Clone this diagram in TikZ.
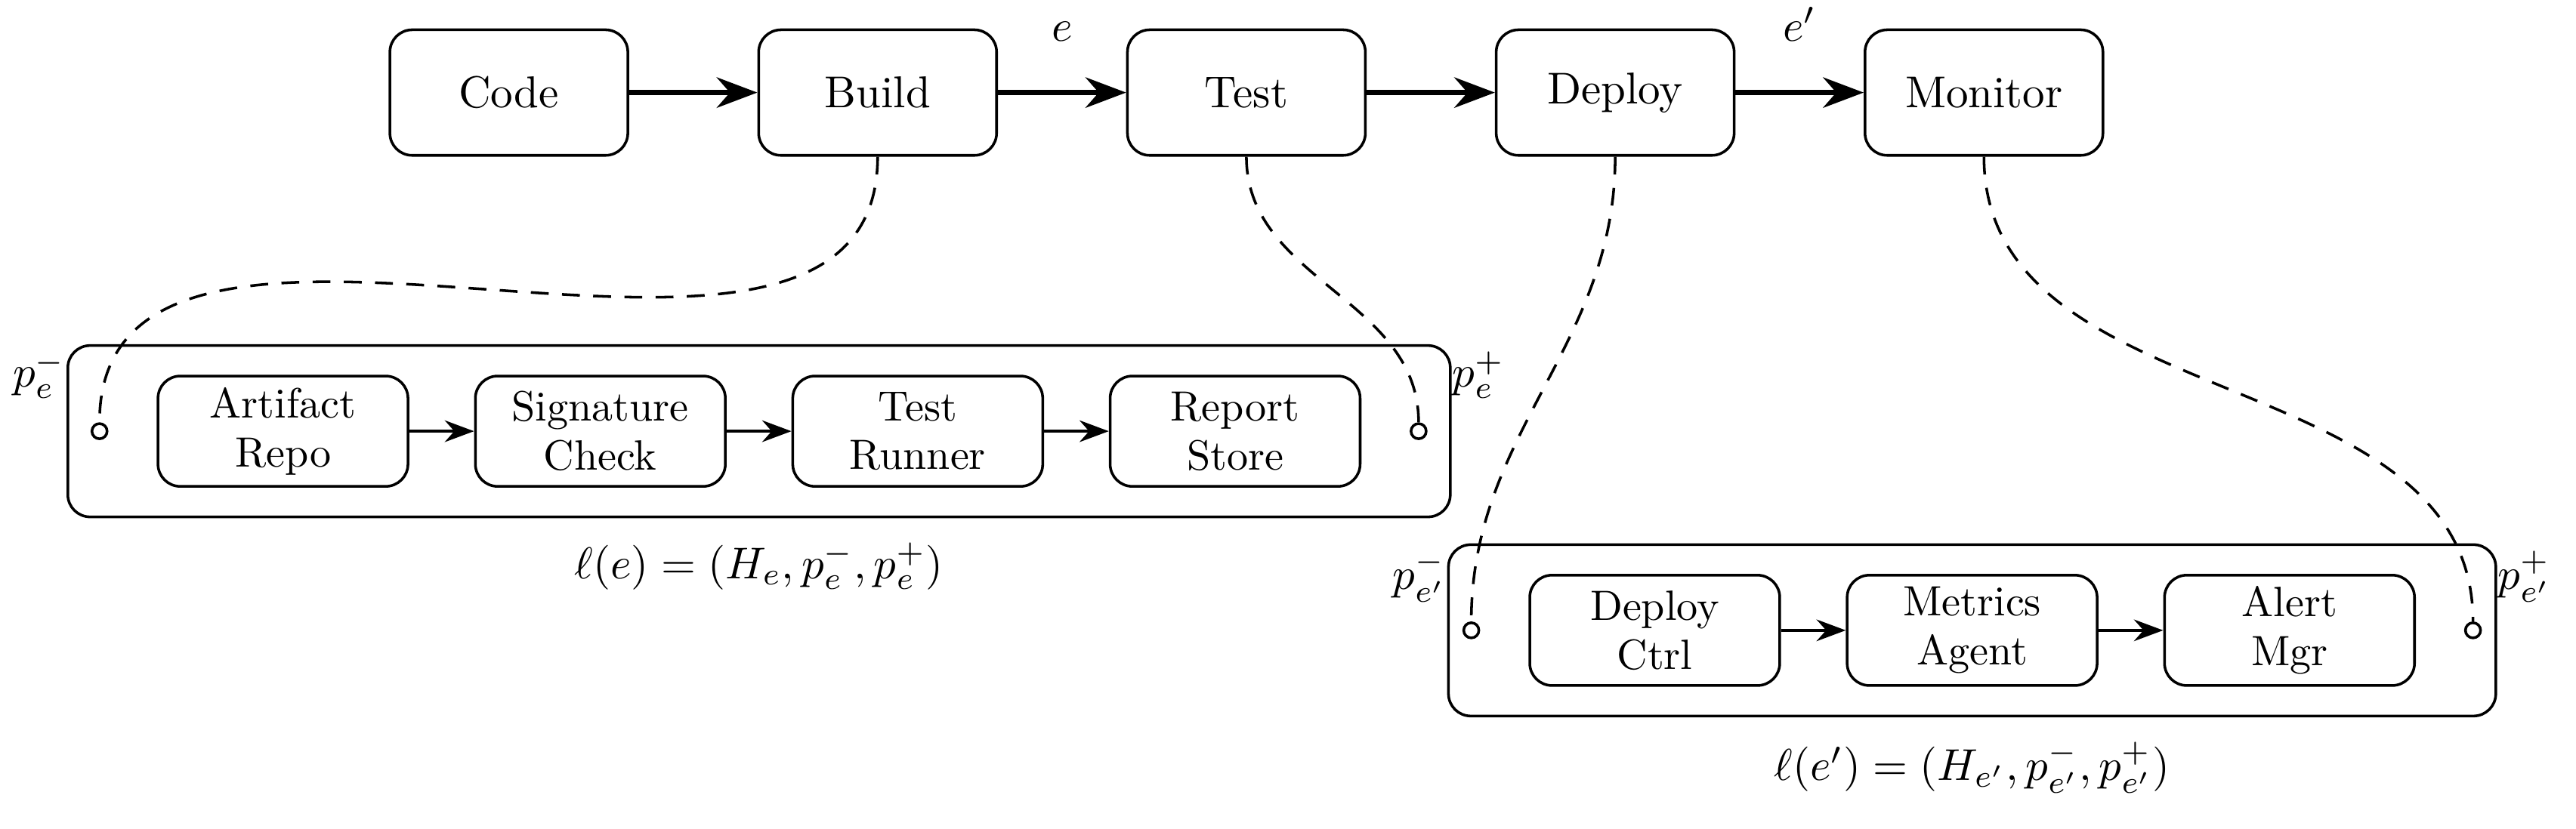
\documentclass[tikz,border=0pt]{standalone}
\usepackage{tikz}
\usetikzlibrary{arrows.meta,positioning,fit}

\tikzset{
  stage/.style={draw, semithick, rounded corners=5pt, minimum width=1.875cm, minimum height=0.99cm},
  unit/.style={draw, semithick, rounded corners=5pt, align=center, minimum width=1.97cm,
    minimum height=0.87cm, inner ysep=2pt, font=\fontsize{9.5}{11}\selectfont},
  group/.style={draw, semithick, rounded corners=5pt, inner ysep=0.23cm},
  port/.style={circle, draw, semithick, fill=white, inner sep=0pt, minimum size=3.4pt},
  plabel/.style={inner xsep=0pt, inner ysep=1.5pt},
  flow/.style={-{Stealth[length=3.2mm,width=2.4mm]}, line width=1.1pt},
  link/.style={-{Stealth[length=2.3mm,width=1.7mm]}, thick},
  tether/.style={semithick, dash pattern=on 4pt off 3pt},
}

\begin{document}
\begin{tikzpicture}
  \useasboundingbox (0,0) rectangle (20.30,-6.536);
  % pipeline stages
  \node[stage] (code) at (4.01,-0.73) {Code};
  \node[stage, right=1.01cm of code] (build) {Build};
  \node[stage, right=1.01cm of build] (test) {Test};
  \node[stage, right=1.01cm of test] (deploy) {Deploy};
  \node[stage, right=1.01cm of deploy] (monitor) {Monitor};
  \draw[flow] (code) -- (build);
  \draw[flow] (build) -- node[above=0.27cm] (le) {$e$} (test);
  \draw[flow] (test) -- (deploy);
  \draw[flow] (deploy) -- node[above=0.27cm] (lep) {$e'$} (monitor);

  % hyperedge for e
  \node[unit] (ar) at (2.23,-3.40) {Artifact\\Repo};
  \node[unit, right=0.51cm of ar] (sc) {Signature\\Check};
  \node[unit, right=0.51cm of sc] (tr) {Test\\Runner};
  \node[unit, right=0.51cm of tr] (rs) {Report\\Store};
  \draw[link] (ar) -- (sc);
  \draw[link] (sc) -- (tr);
  \draw[link] (tr) -- (rs);
  \node[port, left=0.38cm of ar] (pl1) {};
  \node[port, right=0.38cm of rs] (pr1) {};
  \node[group, fit=(ar)(rs), inner xsep=0.7cm] (h1) {};
  \node[plabel, anchor=north east] (pl1t) at (h1.north west) {$p_e^-$};
  \node[plabel, anchor=north west] (pr1t) at (h1.north east) {$p_e^+$};
  \node[below=2pt of h1] (l1) {$\ell(e) = (H_e, p_e^-, p_e^+)$};

  % hyperedge for e'
  \node[unit] (dc) at (13.04,-4.97) {Deploy\\Ctrl};
  \node[unit, right=0.51cm of dc] (ma) {Metrics\\Agent};
  \node[unit, right=0.51cm of ma] (am) {Alert\\Mgr};
  \draw[link] (dc) -- (ma);
  \draw[link] (ma) -- (am);
  \node[port, left=0.38cm of dc] (pl2) {};
  \node[port, right=0.38cm of am] (pr2) {};
  \node[group, fit=(dc)(am), inner xsep=0.63cm] (h2) {};
  \node[plabel, anchor=north east] (pl2t) at (h2.north west) {$p_{e'}^-$};
  \node[plabel, anchor=north west] (pr2t) at (h2.north east) {$p_{e'}^+$};
  \node[below=2pt of h2] (l2) {$\ell(e') = (H_{e'}, p_{e'}^-, p_{e'}^+)$};

  % tethers
  \draw[tether] (build.south) to[out=-90,in=90] (pl1.north);
  \draw[tether] (test.south) to[out=-90,in=90] (pr1.north);
  \draw[tether] (deploy.south) to[out=-90,in=90] (pl2.north);
  \draw[tether] (monitor.south) to[out=-90,in=90] (pr2.north);
\end{tikzpicture}
\end{document}
